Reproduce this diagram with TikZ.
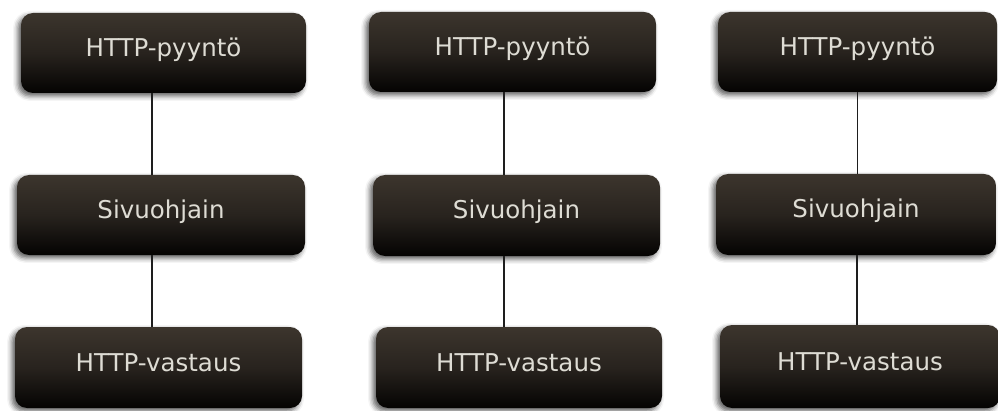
\documentclass[tikz,border=0pt]{standalone}
\usepackage{fontspec}
\setmainfont{DejaVu Sans}
\usetikzlibrary{shadows.blur}
\definecolor{boxtop}{RGB}{60,53,45}
\definecolor{boxmid}{RGB}{40,35,30}
\definecolor{boxbot}{RGB}{4,3,2}
\definecolor{txtcol}{RGB}{222,220,212}
\definecolor{linecol}{RGB}{30,30,30}
\tikzset{
  stagebox/.style={rectangle, rounded corners=12pt, draw=none,
    top color=boxtop, bottom color=boxbot, middle color=boxmid,
    blur shadow={shadow xshift=-3pt, shadow yshift=-3pt, shadow opacity=65, shadow blur radius=5pt},
    font=\fontsize{24.5}{29}\selectfont, text=txtcol,
    text height=12pt, text depth=5pt, inner sep=0pt},
  link/.style={draw=linecol, line width=1.3pt}
}
\begin{document}
\begin{tikzpicture}[x=1pt,y=1pt]
\useasboundingbox (0,0) rectangle (998,410);
% column 1
\node[stagebox, minimum width=285pt, minimum height=80pt] (A1) at (163.5,357) {HTTP-pyyntö};
\node[stagebox, minimum width=288pt, minimum height=80pt] (B1) at (161,195) {Sivuohjain};
\node[stagebox, minimum width=287pt, minimum height=81pt] (C1) at (158.5,42.5) {HTTP-vastaus};
% column 2
\node[stagebox, minimum width=287pt, minimum height=80pt] (A2) at (512.5,358) {HTTP-pyyntö};
\node[stagebox, minimum width=287pt, minimum height=81pt] (B2) at (516.5,194.5) {Sivuohjain};
\node[stagebox, minimum width=286pt, minimum height=81pt] (C2) at (519,42.5) {HTTP-vastaus};
% column 3
\node[stagebox, minimum width=279pt, minimum height=80pt] (A3) at (857.5,358) {HTTP-pyyntö};
\node[stagebox, minimum width=280pt, minimum height=81pt] (B3) at (856,195.5) {Sivuohjain};
\node[stagebox, minimum width=280pt, minimum height=83pt] (C3) at (860,43.5) {HTTP-vastaus};
% connectors
\draw[link] ([xshift=-11.5pt]A1.south) -- ([xshift=-11.5pt]A1.south |- B1.north);
\draw[link] ([xshift=-9pt]B1.south) -- ([xshift=-9pt]B1.south |- C1.north);
\draw[link] ([xshift=-8.5pt]A2.south) -- ([xshift=-8.5pt]A2.south |- B2.north);
\draw[link] ([xshift=-12.5pt]B2.south) -- ([xshift=-12.5pt]B2.south |- C2.north);
\draw[link] ([xshift=0pt]A3.south) -- ([xshift=0pt]A3.south |- B3.north);
\draw[link] ([xshift=1pt]B3.south) -- ([xshift=1pt]B3.south |- C3.north);
\end{tikzpicture}
\end{document}
